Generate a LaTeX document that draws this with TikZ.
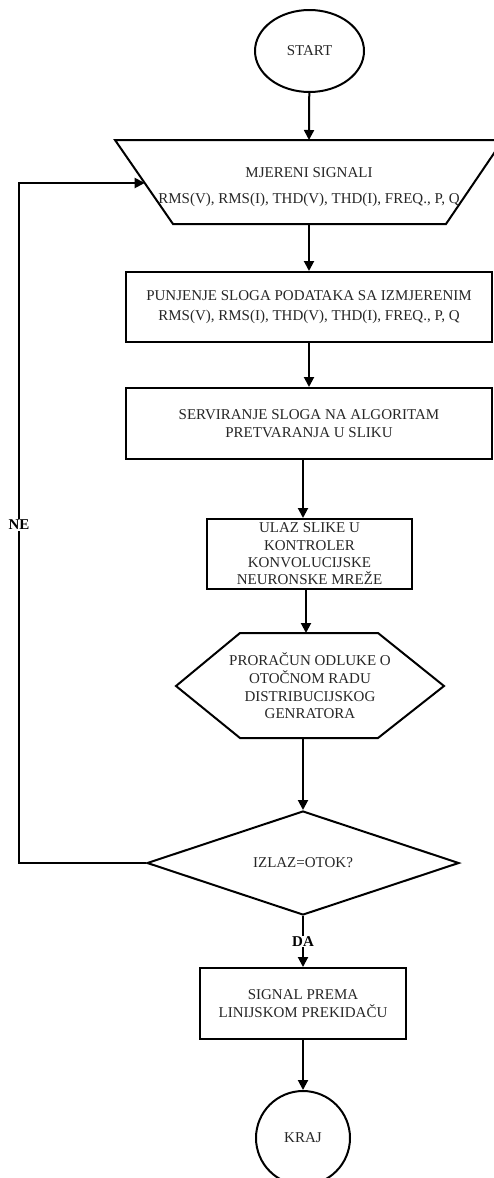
\documentclass[tikz,border=0pt]{standalone}
\usepackage{fontspec}
\setmainfont{Liberation Serif}
\usetikzlibrary{shapes.geometric,arrows.meta}
\begin{document}
\begin{tikzpicture}[x=1pt,y=-1pt,
  line width=2pt,
  txt/.style={align=center,text=black!85,font=\fontsize{15}{18}\selectfont,inner sep=0pt},
  box/.style={draw,rectangle,txt},
  arr/.style={-{Triangle[length=10pt,width=10pt]}},
  lbl/.style={fill=white,inner sep=1pt,font=\fontsize{15}{18}\selectfont\bfseries}]
\useasboundingbox (0,0) rectangle (494,1178);
% START
\node[draw,ellipse,txt,minimum width=109pt,minimum height=82pt] (start) at (309.5,51) {START};
% input trapezoid
\draw (115,140) -- (503,140) -- (446,224) -- (173,224) -- cycle;
\coordinate (inN) at (309,140);
\coordinate (inS) at (309,224);
\coordinate (inL) at (144.7,183);
\node[txt,font=\fontsize{15}{26}\selectfont] (in) at (309,187) {MJERENI SIGNALI\\RMS(V), RMS(I), THD(V), THD(I), FREQ., P, Q};
% boxes
\node[box,minimum width=366pt,minimum height=70pt,font=\fontsize{15}{20}\selectfont] (b1) at (309,307) {PUNJENJE SLOGA PODATAKA SA IZMJERENIM\\RMS(V), RMS(I), THD(V), THD(I), FREQ., P, Q};
\node[box,minimum width=366pt,minimum height=71pt] (b2) at (309,423.5) {SERVIRANJE SLOGA NA ALGORITAM\\PRETVARANJA U SLIKU};
\node[box,minimum width=205pt,minimum height=70pt,font=\fontsize{15}{17.3}\selectfont] (b3) at (309.5,554) {ULAZ SLIKE U\\KONTROLER\\KONVOLUCIJSKE\\NEURONSKE MREŽE};
% hexagon
\draw (240,633) -- (378,633) -- (444,686) -- (378,738) -- (240,738) -- (176,686) -- cycle;
\coordinate (hexN) at (310,633);
\coordinate (hexS) at (303,738);
\node[txt,font=\fontsize{15}{17.7}\selectfont] (hex) at (310,686) {PRORAČUN ODLUKE O\\OTOČNOM RADU\\DISTRIBUCIJSKOG\\GENRATORA};
% decision
\node[draw,diamond,txt,minimum width=312pt,minimum height=104pt,aspect=3] (dec) at (303,863) {IZLAZ=OTOK?};
\coordinate (loopc) at (19,863);
% output box
\node[box,minimum width=206pt,minimum height=71pt] (b4) at (303,1003.5) {SIGNAL PREMA\\LINIJSKOM PREKIDAČU};
% KRAJ
\node[draw,circle,txt,minimum size=94pt] (end) at (303,1138) {KRAJ};
% connectors
\draw[arr] (start) -- (inN);
\draw[arr] (inS) -- (b1.north -| inS);
\draw[arr] (b1.south) -- (b2.north);
\draw[arr] (b2.south -| 303,0) -- (b3.north -| 303,0);
\draw[arr] (b3.south -| 306,0) -- (hexN -| 306,0);
\draw[arr] (hexS) -- (dec.north);
\draw[arr] (dec.west) -- (loopc) |- (inL);
\node[lbl] (ne) at (19,525) {NE};
\draw[arr] (dec.south) -- node[lbl] (da) {DA} (b4.north);
\draw[arr] (b4.south) -- (end.north);
\end{tikzpicture}
\end{document}
